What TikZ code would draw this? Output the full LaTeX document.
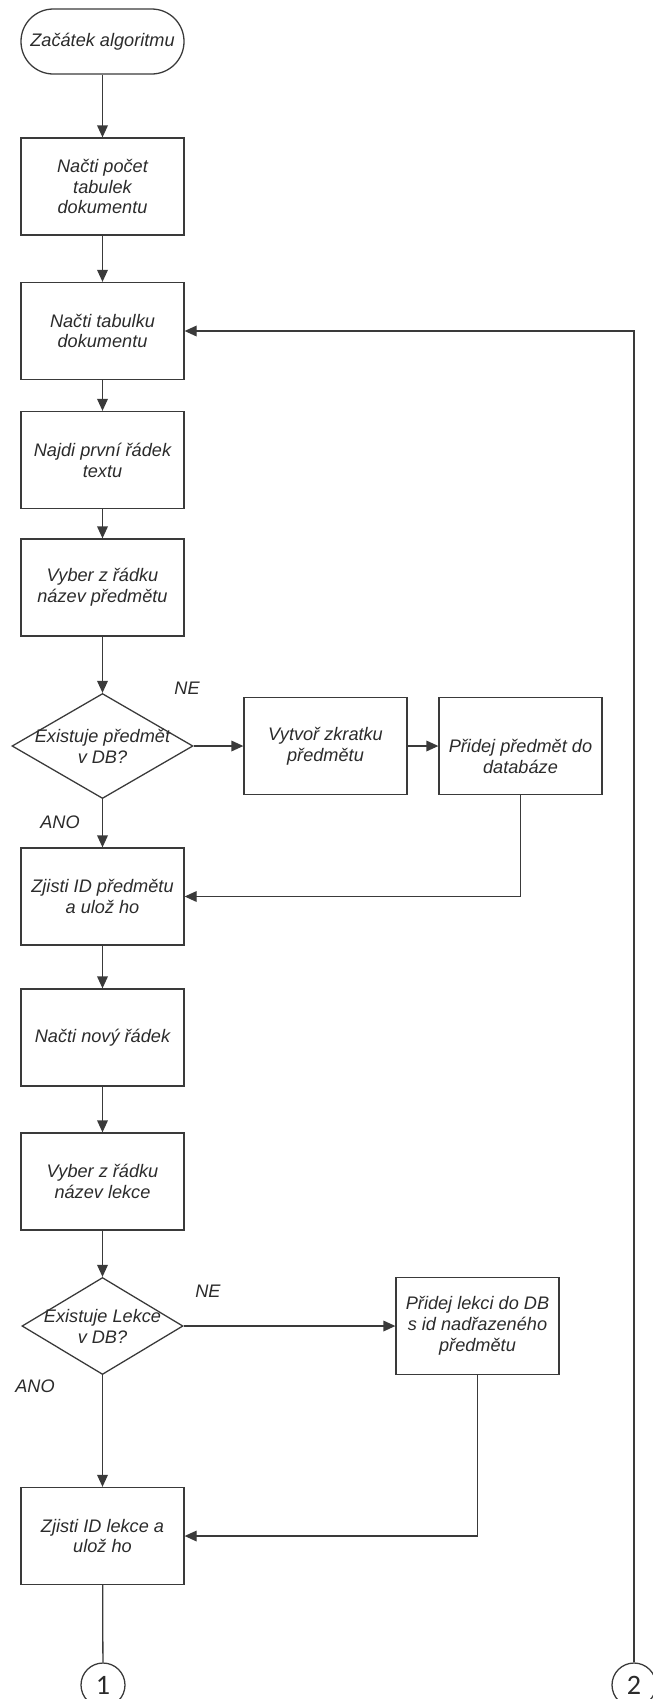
\documentclass[tikz,border=0pt]{standalone}
\usepackage{fontspec}
\setmainfont{Liberation Sans}
\newfontfamily\calfont{Carlito}
\usetikzlibrary{arrows.meta, shapes.geometric}
\definecolor{cline}{HTML}{3A3A3A}
\definecolor{ctext}{HTML}{2B2B2B}
\tikzset{
  every picture/.style={line width=1.1pt},
  flowtext/.style={font=\fontsize{15.5}{17.8}\selectfont\itshape, text=ctext, align=center},
  box/.style={flowtext, draw=cline, minimum width=4.89cm, minimum height=2.91cm, inner sep=2pt},
  term/.style={box, rounded corners=0.97cm, minimum height=1.95cm},
  decision/.style={diamond, draw=cline, inner sep=0pt},
  arrow/.style={-{Triangle[length=3.6mm, width=3.2mm]}, draw=cline},
  plain/.style={draw=cline},
  connector/.style={circle, draw=cline, minimum size=1.32cm, inner sep=0pt, font=\calfont\fontsize{24}{24}\selectfont, text=ctext},
  note/.style={flowtext},
}

\begin{document}
\begin{tikzpicture}
  \useasboundingbox (0,0) rectangle (19.56,-50.97);
  \node[term] (start) at (3.075,-1.245) {Začátek algoritmu};
  \node[box] (pocet) at (3.075,-5.595) {Načti počet\\tabulek\\dokumentu};
  \node[box] (tab) at (3.075,-9.93) {Načti tabulku\\dokumentu};
  \node[box] (radek) at (3.075,-13.8) {Najdi první řádek\\textu};
  \node[box] (vyberp) at (3.075,-17.625) {Vyber z řádku\\název předmětu};
  \node[decision, minimum width=5.43cm, minimum height=3.15cm, label={[flowtext]center:Existuje předmět\\v DB?}] (ex1) at (3.075,-22.38) {};
  \node[box] (zkr) at (9.765,-22.38) {Vytvoř zkratku\\předmětu};
  \node[box, label={[flowtext, yshift=-0.32cm]center:Přidej předmět do\\databáze}] (pridp) at (15.615,-22.38) {};
  \node[box] (id1) at (3.075,-26.895) {Zjisti ID předmětu\\a ulož ho};
  \node[box] (novy) at (3.075,-31.125) {Načti nový řádek};
  \node[box] (vyberl) at (3.075,-35.445) {Vyber z řádku\\název lekce};
  \node[decision, minimum width=4.83cm, minimum height=2.91cm, label={[flowtext]center:Existuje Lekce\\v DB?}] (ex2) at (3.075,-39.78) {};
  \node[box] (pridl) at (14.325,-39.78) {Přidej lekci do DB\\s id nadřazeného\\předmětu};
  \node[box] (id2) at (3.075,-46.08) {Zjisti ID lekce a\\ulož ho};
  \node[connector] (c1) at (3.09,-50.55) {1};
  \node[connector] (c2) at (19.02,-50.55) {2};
  \node[note] (ne1) at (5.61,-20.64) {NE};
  \node[note] (ano1) at (1.8,-24.66) {ANO};
  \node[note] (ne2) at (6.24,-38.73) {NE};
  \node[note] (ano2) at (1.05,-41.58) {ANO};
  \draw[arrow] (start) -- (pocet); \draw[arrow] (pocet) -- (tab); \draw[arrow] (tab) -- (radek);
  \draw[arrow] (radek) -- (vyberp); \draw[arrow] (vyberp) -- (ex1.north);
  \draw[arrow] (ex1.east) -- (zkr); \draw[arrow] (zkr) -- (pridp);
  \draw[arrow] (ex1.south) -- (id1); \draw[arrow] (pridp.south) |- (id1.east);
  \draw[arrow] (id1) -- (novy); \draw[arrow] (novy) -- (vyberl); \draw[arrow] (vyberl) -- (ex2.north);
  \draw[arrow] (ex2.east) -- (pridl); \draw[arrow] (ex2.south) -- (id2); \draw[arrow] (pridl.south) |- (id2.east);
  \draw[plain] (id2) -- (c1);
  \draw[arrow] (c2.north) |- (tab.east);
\end{tikzpicture}
\end{document}
